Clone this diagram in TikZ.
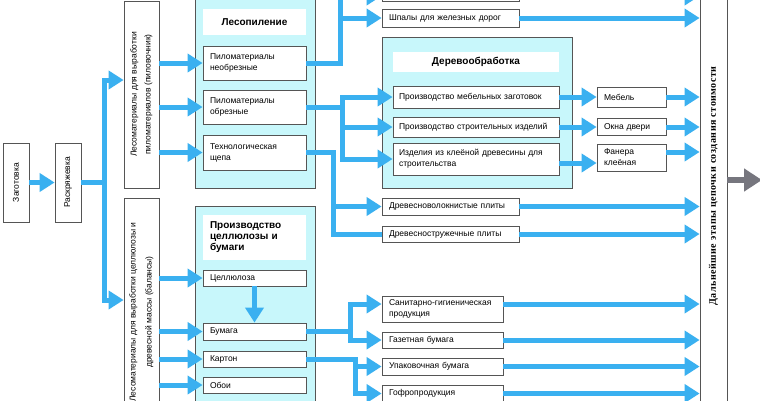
\documentclass[tikz,border=0pt]{standalone}
\usepackage{fontspec}
\setmainfont{Liberation Sans}
\newfontfamily\chainfont[LetterSpace=5]{Liberation Serif}
\usetikzlibrary{arrows.meta}
\definecolor{flowblue}{RGB}{58,176,240}
\definecolor{panelcyan}{RGB}{200,247,251}
\definecolor{boxline}{RGB}{85,85,85}
\definecolor{tipgray}{RGB}{118,118,126}
\newcommand{\boxfont}{\fontsize{8.5}{11}\selectfont}

\begin{document}
\begin{tikzpicture}[x=1pt,y=-1pt,
	box/.style={draw=boxline,fill=white,line width=0.8pt,inner ysep=1pt,inner xsep=7pt,align=left,font=\boxfont},
	vbox/.style={draw=boxline,fill=white,line width=0.8pt,rotate=90,align=center,inner sep=0pt,font=\boxfont},
	panel/.style={draw=boxline,fill=panelcyan,line width=0.8pt,inner sep=0pt},
	title/.style={fill=white,inner sep=0pt,font=\fontsize{10}{12}\selectfont\bfseries},
	flowline/.style={draw=flowblue,line width=5pt},
	flow/.style={flowline,-{Triangle[length=15pt,width=18pt]}}]
	\useasboundingbox (0,0) rectangle (760,400);
	\clip (0,0) rectangle (760,400);
	\fill[white] (0,0) rectangle (760,400);
	% left column
	\node[vbox,minimum width=79pt,minimum height=26pt] (zag) at (16,182.5) {Заготовка};
	\node[vbox,minimum width=79pt,minimum height=26pt] (rask) at (68,182.5) {Раскряжевка};
	\node[vbox,minimum width=187pt,minimum height=35pt,font=\fontsize{8.5}{14}\selectfont] (pil) at (141.5,94.5) {Лесоматериалы для выработки\\пиломатериалов (пиловочник)};
	\node[vbox,minimum width=228pt,minimum height=35pt,font=\fontsize{8.5}{16}\selectfont] (bal) at (141.5,312) {Лесоматериалы для выработки целлюлозы и\\древесной массы (балансы)};
	% sawmill
	\node[panel,minimum width=120pt,minimum height=193pt] (saw) at (255,91.5) {};
	\node[title,minimum width=103pt,minimum height=26pt] (sawt) at (254.5,22) {Лесопиление};
	\node[box,text width=89pt,minimum height=34pt] (neobr) at (254.5,63) {Пиломатериалы\\необрезные};
	\node[box,text width=89pt,minimum height=34pt] (obr) at (254.5,107) {Пиломатериалы\\обрезные};
	\node[box,text width=89pt,minimum height=35pt] (shch) at (254.5,152.5) {Технологическая\\щепа};
	% pulp and paper
	\node[panel,minimum width=120pt,minimum height=274pt] (pulp) at (255,343) {};
	\node[title,align=left,text width=89pt,inner xsep=7pt,minimum height=45pt,font=\fontsize{10}{11}\selectfont\bfseries] (pulpt) at (254.5,237.5) {Производство\\целлюлозы и\\бумаги};
	\node[box,text width=89pt,minimum height=16pt] (cell) at (254.5,278) {Целлюлоза};
	\node[box,text width=89pt,minimum height=17pt] (pap) at (254.5,331.5) {Бумага};
	\node[box,text width=89pt,minimum height=16pt] (kart) at (254.5,359) {Картон};
	\node[box,text width=89pt,minimum height=16pt] (oboi) at (254.5,385) {Обои};
	% woodworking
	\node[panel,minimum width=190pt,minimum height=151pt] (wood) at (477,112.5) {};
	\node[title,minimum width=166pt,minimum height=20pt] (woodt) at (476,62) {Деревообработка};
	\node[box,text width=154pt,inner xsep=6pt,minimum height=22pt] (mebz) at (476,97) {Производство мебельных заготовок};
	\node[box,text width=154pt,inner xsep=6pt,minimum height=20pt] (stroi) at (476,127) {Производство строительных изделий};
	\node[box,text width=154pt,inner xsep=6pt,minimum height=32pt] (klee) at (476,159) {Изделия из клеёной древесины для\\строительства};
	% boards and sleepers
	\node[box,text width=123pt,minimum height=21pt] (top) at (450.5,-9) {};
	\node[box,text width=123pt,minimum height=18pt] (shp) at (450.5,18) {Шпалы для железных дорог};
	\node[box,text width=123pt,minimum height=17pt] (dvp) at (450.5,206.5) {Древесноволокнистые плиты};
	\node[box,text width=123pt,minimum height=16pt] (dsp) at (450.5,234) {Древесностружечные плиты};
	% products
	\node[box,text width=55pt,minimum height=20pt] (meb) at (631.5,97) {Мебель};
	\node[box,text width=55pt,minimum height=17pt] (okna) at (631.5,127) {Окна двери};
	\node[box,text width=55pt,minimum height=27pt] (fan) at (631.5,157.5) {Фанера\\клеёная};
	\node[box,text width=107pt,minimum height=26pt] (san) at (442.5,309) {Санитарно-гигиеническая\\продукция};
	\node[box,text width=107pt,minimum height=16pt] (gaz) at (442.5,340) {Газетная бумага};
	\node[box,text width=107pt,minimum height=17pt] (upak) at (442.5,366.5) {Упаковочная бумага};
	\node[box,text width=107pt,minimum height=17pt] (gofr) at (442.5,393.5) {Гофропродукция};
	% next stages
	\node[vbox,minimum width=432pt,minimum height=27pt,font=\chainfont\bfseries\fontsize{10}{12}\selectfont] (chain) at (713.5,186) {Дальнейшие этапы цепочки создания стоимости};
	\coordinate (out) at (762,180);
	% flows
	\draw[flow] (zag.south) -- (rask.north);
	\draw[flow] (rask.south) -- ++(23,0) |- (pil.north |- 0,80);
	\draw[flow] (rask.south) -- ++(23,0) |- (bal.north |- 0,300);
	\foreach \t in {neobr,obr,shch} \draw[flow] (pil.south |- \t.west) -- (\t.west);
	\foreach \t in {cell,pap,kart,oboi} \draw[flow] (bal.south |- \t.west) -- (\t.west);
	\draw[flow] (cell.south) -- (pap.north);
	\draw[flow] (neobr.east) -- ++(34,0) |- (top.west |- 0,-4);
	\draw[flow] (neobr.east) -- ++(34,0) |- (shp.west);
	\foreach \t in {mebz,stroi,klee} \draw[flow] (obr.east) -- ++(36,0) |- (\t.west);
	\draw[flow] (shch.east) -- ++(27,0) |- (dvp.west);
	\draw[flowline] (shch.east) -- ++(27,0) |- (dsp.west);
	\draw[flow] (pap.east) -- ++(44,0) |- ([yshift=5pt]san.west);
	\draw[flow] (pap.east) -- ++(44,0) |- (gaz.west);
	\draw[flow] (kart.east) -- ++(49,0) |- (upak.west);
	\draw[flow] (kart.east) -- ++(49,0) |- (gofr.west);
	\draw[flow] (mebz.east) -- (meb.west);
	\draw[flow] (stroi.east) -- (okna.west);
	\draw[flow] ([yshift=-4pt]klee.east) -- ([yshift=-5.5pt]fan.west);
	\foreach \t in {shp,dvp,dsp,meb,okna,gaz,upak,gofr} \draw[flow] (\t.east) -- (\t.east -| chain.north);
	\draw[flow] (top.east |- 0,-4) -- (chain.north |- 0,-4);
	\draw[flow] ([yshift=5.5pt]fan.east) -- ([yshift=5.5pt]fan.east -| chain.north);
	\draw[flow] ([yshift=5pt]san.east) -- ([yshift=5pt]san.east -| chain.north);
	\draw[draw=tipgray,line width=6pt,-{Triangle[length=18pt,width=22pt]}] (chain.south |- out) -- (out);
\end{tikzpicture}
\end{document}
